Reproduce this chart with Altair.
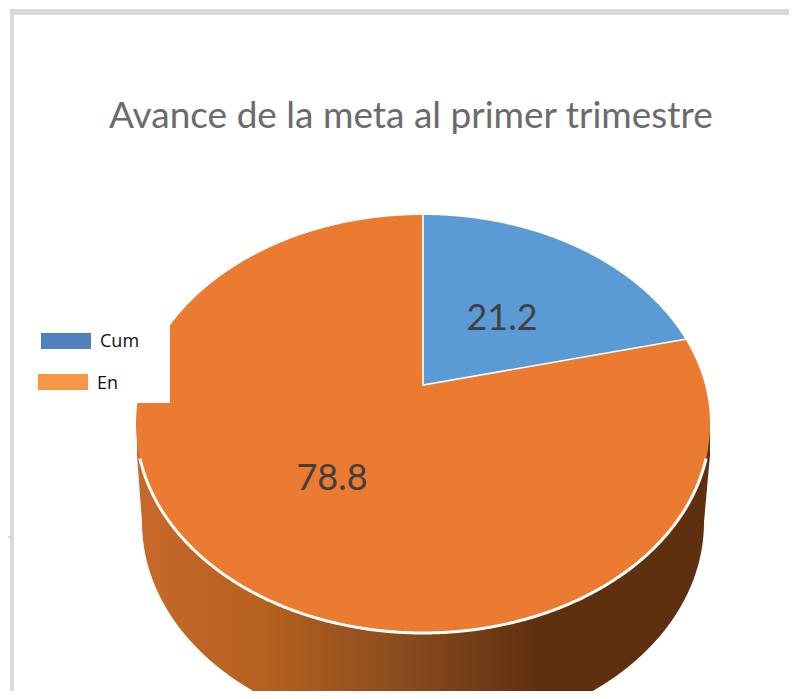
import altair as alt
import numpy as np
import pandas as pd

# ---- data
title_text = "Avance de la meta al primer trimestre"
categories = ["Cum", "En"]
values = [21.2, 78.8]
label_text = ["21.2", "78.8"]

# ---- layout of the 3-D disc (page pixels)
CX, CY, RX, RY = 423.0, 424.0, 287.0, 209.0
HUB_Y = 385.0
SIDE_CY, SIDE_RX, SIDE_RY = 522.0, 281.0, 212.0
W, H = 781, 683
xs = alt.Scale(domain=[8, 789], nice=False, zero=False)
ys = alt.Scale(domain=[691, 8], nice=False, zero=False)
FONT = "Lato"


def perspective(frac):
    """Share of the pie -> point on the tilted, perspective disc rim."""
    b = (CY - HUB_Y) / RY
    t = 2 * np.pi * frac
    X, Y = np.sin(t), np.cos(t)
    d = 1 + b * Y
    return CX + RX * X * np.sqrt(1 - b * b) / d, CY - RY * (Y + b) / d


xe, ye = perspective(values[0] / sum(values))
a = np.linspace(-np.pi / 2, np.pi / 2, 721)
xgrid = np.unique(np.concatenate([CX + RX * np.sin(a), [CX, CX - 0.01, xe]]))
half = RY * np.sqrt(np.clip(1 - ((xgrid - CX) / RX) ** 2, 0, 1))
upper, lower = CY - half, CY + half
spoke = HUB_Y + (ye - HUB_Y) * (xgrid - CX) / (xe - CX)
in_wedge = (xgrid >= CX) & (xgrid <= xe)

blue_df = pd.DataFrame({"x": xgrid[in_wedge], "y": upper[in_wedge], "y2": spoke[in_wedge]})
orange_df = pd.DataFrame({"x": xgrid, "y": np.where(in_wedge, spoke, upper), "y2": lower})
rim_df = pd.DataFrame({"x": xgrid, "y": lower})
rim_df = rim_df[rim_df.y > 458]
spoke_df = pd.DataFrame({"x": [CX, CX, xe], "y": [upper[xgrid == CX][0], HUB_Y, ye], "o": [0, 1, 2]})

sx = SIDE_RX * np.sin(a) + CX
side_df = pd.DataFrame({
    "x": np.concatenate([[137.0], sx, [710.0]]),
    "y": CY,
    "y2": np.concatenate([[455.0], SIDE_CY + SIDE_RY * np.cos(a), [455.0]]),
})

X = alt.X("x:Q", scale=xs, axis=None)
Y = alt.Y("y:Q", scale=ys, axis=None)
Y2 = alt.Y2("y2:Q")

side_fill = alt.LinearGradient(
    gradient="linear", x1=0, x2=1, y1=0, y2=0,
    stops=[
        alt.GradientStop(color="#c8692a", offset=0.0),
        alt.GradientStop(color="#b5611f", offset=0.22),
        alt.GradientStop(color="#8a4c1e", offset=0.46),
        alt.GradientStop(color="#5f3010", offset=0.70),
        alt.GradientStop(color="#5f3010", offset=1.0),
    ],
)

side = alt.Chart(side_df).mark_area(color=side_fill, clip=True).encode(X, Y, y2=Y2)
orange = alt.Chart(orange_df).mark_area(color="#ea7b30", clip=True).encode(X, Y, y2=Y2)
blue = alt.Chart(blue_df).mark_area(color="#5b9bd5", clip=True).encode(X, Y, y2=Y2)
rim = alt.Chart(rim_df).mark_line(color="white", strokeWidth=3, clip=True).encode(X, Y)
spokes = alt.Chart(spoke_df).mark_line(color="white", strokeWidth=1.6).encode(X, Y, order="o:Q")

labels = alt.Chart(pd.DataFrame({
    "x": [502, 332], "y": [330, 490], "t": label_text,
})).mark_text(font=FONT, fontSize=36, color="#404040", align="center", baseline="alphabetic").encode(X, Y, text="t:N")

# white box behind the legend, covering the disc's left edge
cover = alt.Chart(pd.DataFrame({"x": [15], "x2": [170], "y": [300], "y2": [403]})).mark_rect(color="white").encode(
    alt.X("x:Q", scale=xs, axis=None), x2="x2:Q", y=Y, y2=Y2)

swatches = alt.Chart(pd.DataFrame({
    "x": [41, 38], "x2": [91, 88], "y": [333, 374], "y2": [349, 390], "c": categories,
})).mark_rect().encode(
    alt.X("x:Q", scale=xs, axis=None), x2="x2:Q", y=Y, y2=Y2,
    color=alt.Color("c:N", scale=alt.Scale(domain=categories, range=["#4f81bd", "#f79646"]), legend=None),
)
legend_text = alt.Chart(pd.DataFrame({
    "x": [100, 97], "y": [347, 389], "t": categories,
})).mark_text(font="Open Sans", fontSize=18, color="#111111", align="left", baseline="alphabetic").encode(X, Y, text="t:N")

# outer frame of the original slide
frame = alt.Chart(pd.DataFrame({
    "x": [10, 10], "x2": [789, 14], "y": [9, 9], "y2": [15, 691],
})).mark_rect(color="#d9d9d9").encode(alt.X("x:Q", scale=xs, axis=None), x2="x2:Q", y=Y, y2=Y2)
tick = alt.Chart(pd.DataFrame({"x": [8, 10], "y": [537, 537]})).mark_line(color="#bdbdbd", strokeWidth=1).encode(X, Y)

chart = alt.layer(
    frame, tick, side, orange, blue, rim, spokes, labels, cover, swatches, legend_text
).properties(
    width=W, height=H,
    autosize=alt.AutoSizeParams(type="none"),
    padding=0,
    background="white",
    title=alt.TitleParams(
        text=title_text, font=FONT, fontSize=37, fontWeight="normal", color="#6b6b6b",
        anchor="start", baseline="alphabetic", dx=103, dy=157, offset=0, limit=780,
    ),
).configure_view(stroke=None)

chart.save("out.html", embed_options={"renderer": "svg", "actions": False})
